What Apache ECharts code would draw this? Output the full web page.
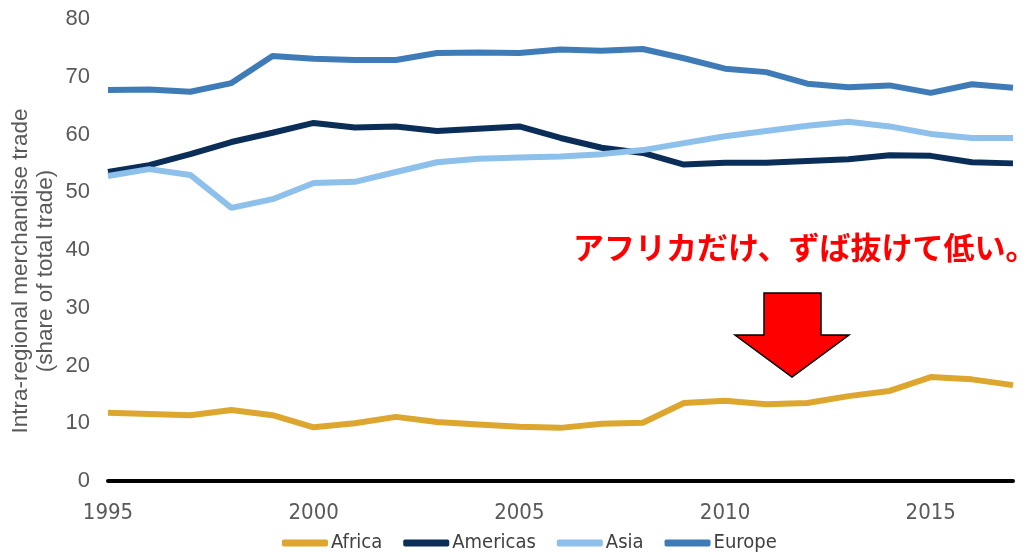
<!DOCTYPE html>
<html>
<head>
<meta charset="utf-8">
<script src="https://cdn.jsdelivr.net/npm/echarts@6/dist/echarts.min.js"></script>
<style>html,body{margin:0;padding:0;background:#fff}#c{width:1034px;height:552px}</style>
</head>
<body>
<div id="c"></div>
<script>
const years = ['1995','1996','1997','1998','1999','2000','2001','2002','2003','2004','2005','2006','2007','2008','2009','2010','2011','2012','2013','2014','2015','2016','2017'];
const africa   = [11.8,11.6,11.4,12.3,11.4,9.3,10.0,11.1,10.2,9.8,9.4,9.2,9.9,10.1,13.5,13.9,13.3,13.5,14.7,15.6,18.0,17.6,16.6];
const americas = [53.5,54.7,56.6,58.7,60.3,62.0,61.2,61.4,60.6,61.0,61.4,59.4,57.7,56.8,54.8,55.1,55.1,55.4,55.7,56.4,56.3,55.2,55.0];
const asia     = [52.8,54.0,53.0,47.3,48.8,51.6,51.8,53.5,55.2,55.8,56.0,56.2,56.6,57.3,58.5,59.7,60.6,61.5,62.2,61.4,60.1,59.4,59.4];
const europe   = [67.7,67.8,67.4,68.9,73.6,73.1,72.9,72.9,74.1,74.2,74.1,74.7,74.5,74.8,73.2,71.4,70.8,68.8,68.2,68.5,67.2,68.7,68.1];
const yTicks = [0,10,20,30,40,50,60,70,80];
const seriesNames = ['Africa','Americas','Asia','Europe'];
const colors = ['#DCA62F','#0B2E59','#8EC0EC','#3F7CB7'];
const yTitle = 'Intra-regional merchandise trade\n(share of total trade)';
const note = 'アフリカだけ、ずば抜けて低い。';

const condensed = "'DejaVu Sans Condensed', 'Liberation Sans', sans-serif";
const chart = echarts.init(document.getElementById('c'));
const dataSets = [africa, americas, asia, europe];
chart.setOption({
  animation: false,
  color: colors,
  grid: {left: 108, right: 21, top: 19, bottom: 71, containLabel: false, outerBoundsMode: 'none'},
  xAxis: {
    type: 'category', data: years, boundaryGap: false,
    axisLine: {onZero: true, lineStyle: {color: '#000', width: 4}},
    axisTick: {show: false},
    axisLabel: {interval: 4, margin: 21, fontSize: 22, color: '#595959', fontFamily: condensed}
  },
  yAxis: {
    type: 'value', min: yTicks[0], max: yTicks[yTicks.length-1], interval: 10,
    splitLine: {show: false}, axisLine: {show: false}, axisTick: {show: false},
    axisLabel: {margin: 18, fontSize: 22, color: '#595959', fontFamily: 'Liberation Sans'}
  },
  legend: {
    top: 528, left: 277, itemWidth: 46, itemHeight: 7, itemGap: 21,
    icon: 'roundRect',
    textStyle: {fontSize: 20, color: '#404040', fontFamily: condensed, padding: [0,0,0,-2]},
    data: seriesNames
  },
  series: seriesNames.map((n, i) => ({
    name: n, type: 'line', data: dataSets[i], symbol: 'none',
    lineStyle: {width: 6, color: colors[i]}, itemStyle: {color: colors[i]}
  })),
  graphic: [
    {type: 'text', x: 33, y: 271, rotation: Math.PI / 2,
     style: {text: yTitle, fontSize: 22.5, lineHeight: 25, fill: '#595959', fontFamily: 'Liberation Sans', align: 'center', verticalAlign: 'middle'}},
    {type: 'text', left: 573, top: 232, style: {text: note, fontSize: 31, fontWeight: 'bold', fill: '#FF0000', fontFamily: 'Noto Sans CJK JP'}},
    {type: 'polygon', shape: {points: [[764,293],[821,293],[821,335],[849,335],[792,377],[735,335],[764,335]]},
     style: {fill: '#FF0000', stroke: '#000', lineWidth: 1.5}}
  ]
});
</script>
</body>
</html>
